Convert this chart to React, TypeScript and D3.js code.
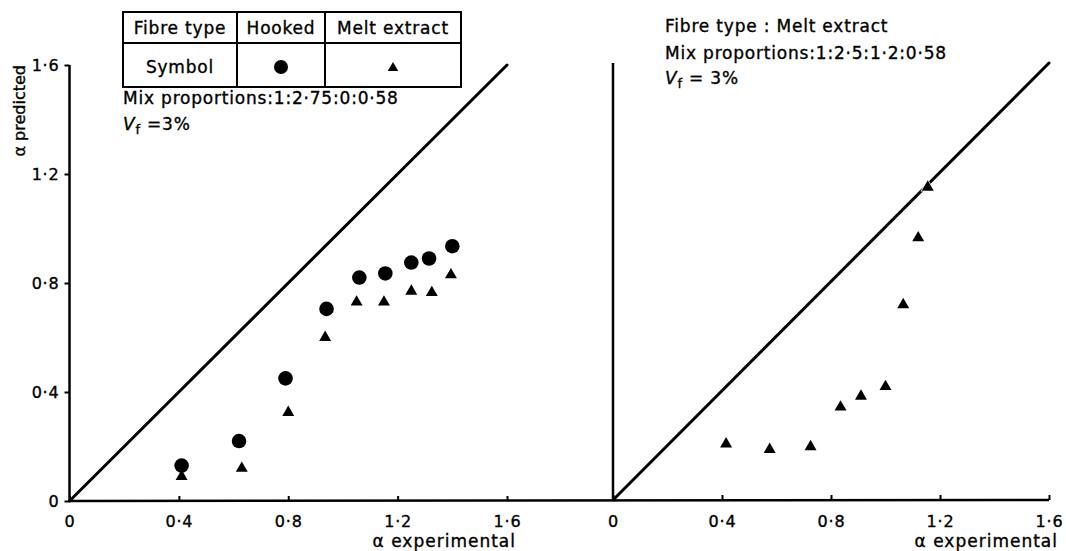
import React, { useEffect, useRef } from 'react';
import * as d3 from 'd3';

const tickVals = [0, 0.4, 0.8, 1.2, 1.6];
const tickLabels = ['0', '0·4', '0·8', '1·2', '1·6'];

// left panel: mix 1:2·75:0:0·58
const hookedExp  = [0.41, 0.62, 0.79, 0.94, 1.06, 1.155, 1.25, 1.315, 1.40];
const hookedPred = [0.13, 0.22, 0.45, 0.705, 0.82, 0.835, 0.875, 0.89, 0.935];
const meltExp    = [0.41, 0.63, 0.80, 0.935, 1.05, 1.15, 1.25, 1.325, 1.395];
const meltPred   = [0.09, 0.12, 0.325, 0.60, 0.73, 0.73, 0.77, 0.765, 0.83];

// right panel: melt extract, mix 1:2·5:1·2:0·58
const meltRExp  = [0.415, 0.575, 0.725, 0.835, 0.91, 1.0, 1.065, 1.12, 1.155];
const meltRPred = [0.205, 0.185, 0.195, 0.34, 0.38, 0.415, 0.715, 0.96, 1.145];

// line of equality
const equality = [0, 1.6];
// ————————————————————

const FONT = '"DejaVu Sans", sans-serif';

const App = () => {
  const ref = useRef<SVGSVGElement>(null);

  useEffect(() => {
    const W = 1066, H = 551;
    const svg = d3.select(ref.current);
    svg.selectAll('*').remove();
    svg.attr('viewBox', `0 0 ${W} ${H}`).style('background', '#fff');

    const xL = d3.scaleLinear().domain([0, 1.6]).range([69.5, 507]);
    const yL = d3.scaleLinear().domain([0, 1.6]).range([501, 65]);
    const xR = d3.scaleLinear().domain([0, 1.6]).range([613, 1049]);
    const yR = d3.scaleLinear().domain([0, 1.6]).range([500, 63]);

    const fmt = (d: any) => tickLabels[tickVals.indexOf(d)];

    // shared baseline across both panels
    svg.append('line')
      .attr('x1', xL(0)).attr('x2', xR(1.6))
      .attr('y1', yL(0)).attr('y2', yR(0))
      .attr('stroke', '#000').attr('stroke-width', 2.5);

    const styleAxis = (g: any) => {
      g.select('.domain').remove();
      g.selectAll('line').attr('stroke', '#000').attr('stroke-width', 2);
      g.selectAll('text')
        .attr('font-family', FONT).attr('font-size', '16px')
        .attr('letter-spacing', '0.8px')
        .attr('fill', '#000').attr('stroke', '#000').attr('stroke-width', 0.35);
    };

    // x axes
    svg.append('g')
      .attr('transform', `translate(0,${yL(0)})`)
      .call(d3.axisBottom(xL).tickValues(tickVals).tickFormat(fmt).tickSize(-5).tickPadding(15))
      .call(styleAxis);
    svg.append('g')
      .attr('transform', `translate(0,${yR(0)})`)
      .call(d3.axisBottom(xR).tickValues(tickVals).tickFormat(fmt).tickSize(-5).tickPadding(16))
      .call(styleAxis);

    // left y axis
    const gy = svg.append('g')
      .attr('transform', `translate(${xL(0)},0)`)
      .call(d3.axisLeft(yL).tickValues(tickVals).tickFormat(fmt).tickSize(5).tickPadding(5))
      .call(styleAxis);
    gy.append('line')
      .attr('x1', 0).attr('x2', 0)
      .attr('y1', yL(0)).attr('y2', yL(1.6))
      .attr('stroke', '#000').attr('stroke-width', 2.5);

    // right y axis (no ticks)
    svg.append('line')
      .attr('x1', xR(0)).attr('x2', xR(0))
      .attr('y1', yR(0)).attr('y2', yR(1.6))
      .attr('stroke', '#000').attr('stroke-width', 2.5);

    // equality lines
    const diagL = d3.line<number>().x(d => xL(d)).y(d => yL(d));
    const diagR = d3.line<number>().x(d => xR(d)).y(d => yR(d));
    svg.append('path').datum(equality).attr('d', diagL)
      .attr('fill', 'none').attr('stroke', '#000').attr('stroke-width', 3).attr('stroke-linecap', 'round');
    svg.append('path').datum(equality).attr('d', diagR)
      .attr('fill', 'none').attr('stroke', '#000').attr('stroke-width', 3).attr('stroke-linecap', 'round');

    // markers
    const tri = d3.symbol().type(d3.symbolTriangle).size(62);
    const triSmall = d3.symbol().type(d3.symbolTriangle).size(48);

    svg.append('g').selectAll('circle')
      .data(hookedExp.map((x, i) => ({ x, y: hookedPred[i] })))
      .join('circle')
      .attr('cx', d => xL(d.x)).attr('cy', d => yL(d.y)).attr('r', 7.3)
      .attr('fill', '#000');

    svg.append('g').selectAll('path')
      .data(meltExp.map((x, i) => ({ x, y: meltPred[i] })))
      .join('path')
      .attr('d', tri as any)
      .attr('transform', d => `translate(${xL(d.x)},${yL(d.y)})`)
      .attr('fill', '#000');

    svg.append('g').selectAll('path')
      .data(meltRExp.map((x, i) => ({ x, y: meltRPred[i] })))
      .join('path')
      .attr('d', tri as any)
      .attr('transform', d => `translate(${xR(d.x)},${yR(d.y)})`)
      .attr('fill', '#000')
      .attr('stroke', '#fff').attr('stroke-width', 1.5).attr('paint-order', 'stroke');

    // text helper
    const txt = (x: number, y: number, s: string, anchor = 'start', size = 17, spacing = 0.8) =>
      svg.append('text')
        .attr('x', x).attr('y', y)
        .attr('text-anchor', anchor)
        .attr('font-family', FONT)
        .attr('font-size', `${size}px`)
        .attr('letter-spacing', `${spacing}px`)
        .attr('fill', '#000')
        .attr('stroke', '#000').attr('stroke-width', 0.35)
        .text(s);

    // axis titles
    txt(xL(1.6) + 9, 547, 'α experimental', 'end', 17, 1);
    txt(xR(1.6) + 9, 547, 'α experimental', 'end', 17, 1);
    svg.append('text')
      .attr('transform', `translate(25,${yL(1.6)}) rotate(-90)`)
      .attr('text-anchor', 'end')
      .attr('font-family', FONT)
      .attr('font-size', '16px')
      .attr('stroke', '#000').attr('stroke-width', 0.35)
      .text('α predicted');

    // legend table
    const cols = [123, 237, 325, 461];
    const rows = [12, 43, 87];
    const tbl = svg.append('g').attr('stroke', '#000').attr('stroke-width', 2);
    rows.forEach(r => tbl.append('line').attr('x1', cols[0] - 1).attr('x2', cols[3] + 1).attr('y1', r).attr('y2', r));
    cols.forEach(c => tbl.append('line').attr('x1', c).attr('x2', c).attr('y1', rows[0]).attr('y2', rows[2]));

    const mid = (a: number, b: number) => (a + b) / 2;
    txt(mid(cols[0], cols[1]), 34, 'Fibre type', 'middle');
    txt(mid(cols[1], cols[2]), 34, 'Hooked', 'middle');
    txt(mid(cols[2], cols[3]), 34, 'Melt extract', 'middle');
    txt(mid(cols[0], cols[1]), 73, 'Symbol', 'middle');
    svg.append('circle')
      .attr('cx', mid(cols[1], cols[2])).attr('cy', 67).attr('r', 7).attr('fill', '#000');
    svg.append('path')
      .attr('d', triSmall as any)
      .attr('transform', `translate(${mid(cols[2], cols[3])},68)`)
      .attr('fill', '#000');

    // annotations
    const vf = (x: number, y: number, rest: string) => {
      const t = svg.append('text')
        .attr('x', x).attr('y', y)
        .attr('font-family', FONT).attr('font-size', '17px')
        .attr('letter-spacing', '0.8px')
        .attr('fill', '#000').attr('stroke', '#000').attr('stroke-width', 0.35);
      t.append('tspan').attr('font-style', 'italic').text('V');
      t.append('tspan').attr('font-size', '13px').attr('dy', 4).text('f');
      t.append('tspan').attr('dy', -4).text(rest);
    };

    txt(123, 104, 'Mix proportions:1:2·75:0:0·58');
    vf(123, 130, ' =3%');

    txt(665, 32, 'Fibre type : Melt extract');
    txt(665, 59, 'Mix proportions:1:2·5:1·2:0·58');
    vf(665, 84, ' = 3%');
  }, []);

  return (
    <svg
      ref={ref}
      width={1066}
      height={551}
      style={{ position: 'absolute', left: 0, top: 0, display: 'block' }}
    />
  );
};

export default App;
